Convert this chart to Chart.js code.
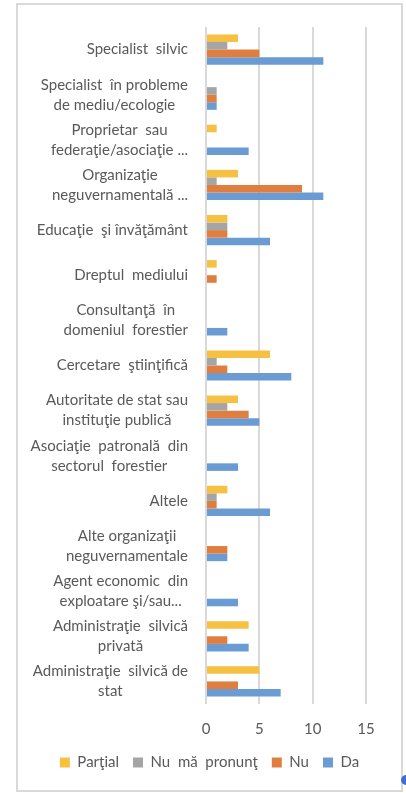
<!DOCTYPE html>
<html>
<head>
<meta charset="utf-8">
<script src="https://cdn.jsdelivr.net/npm/chart.js@4/dist/chart.umd.min.js"></script>
<style>
  html, body { margin: 0; padding: 0; background: #fff; }
  #frame { position: absolute; left: 16px; top: 3px; width: 383px; height: 785px; border: 2px solid #d9d9d9; }
  #dot { position: absolute; left: 401px; top: 775px; width: 10px; height: 10px; border-radius: 50%; background: #3d6fd8; }
</style>
</head>
<body>
<div id="frame"><canvas id="c" width="383" height="785"></canvas></div>
<div id="dot"></div>
<script>
'use strict'

// categories, top to bottom as in the picture (each one split into its lines)
const categories = [
  ['Specialist  silvic'],
  ['Specialist  în probleme', 'de mediu/ecologie'],
  ['Proprietar  sau', 'federaţie/asociaţie ...'],
  ['Organizaţie', 'neguvernamentală ...'],
  ['Educaţie  şi învăţământ'],
  ['Dreptul  mediului'],
  ['Consultanţă  în', 'domeniul  forestier'],
  ['Cercetare  ştiinţifică'],
  ['Autoritate de stat sau', 'instituţie publică'],
  ['Asociaţie  patronală  din', 'sectorul  forestier'],
  ['Altele'],
  ['Alte organizaţii', 'neguvernamentale'],
  ['Agent economic  din', 'exploatare şi/sau...'],
  ['Administraţie  silvică', 'privată'],
  ['Administraţie  silvică de', 'stat']
];

const seriesNames = ['Parţial', 'Nu  mă  pronunţ', 'Nu', 'Da'];
const partial   = [3, 0, 1, 3, 2, 1, 0, 6, 3, 0, 2, 0, 0, 4, 5];
const noOpinion = [2, 1, 0, 1, 2, 0, 0, 1, 2, 0, 1, 0, 0, 0, 0];
const no        = [5, 1, 0, 9, 2, 1, 0, 2, 4, 0, 1, 2, 0, 2, 3];
const yes       = [11, 1, 4, 11, 6, 0, 2, 8, 5, 3, 6, 2, 3, 4, 7];
const xTicks = [0, 5, 10, 15];

const colours = ['#f6c142', '#a5a5a5', '#e07e3f', '#6a9bd2'];
const textColour = '#595959';
const fontFamily = 'Lato, "Open Sans", sans-serif';

// excel style category labels: block pushed right, lines centred inside the block
const catLabels = {
  id: 'catLabels',
  afterDraw(chart) {
    const ctx = chart.ctx;
    const y = chart.scales.y;
    const right = 170;
    const lineH = 20;
    ctx.save();
    ctx.font = '15px ' + fontFamily;
    ctx.fillStyle = textColour;
    ctx.textAlign = 'center';
    ctx.textBaseline = 'middle';
    categories.forEach((lines, i) => {
      const cy = y.getPixelForTick(i);
      const w = Math.max(...lines.map(l => ctx.measureText(l).width));
      const cx = right - w / 2;
      const top = cy - (lines.length - 1) * lineH / 2;
      lines.forEach((l, k) => ctx.fillText(l, cx, top + k * lineH));
    });
    ctx.restore();
  }
};

const data = [partial, noOpinion, no, yes];

new Chart(document.getElementById('c'), {
  type: 'bar',
  data: {
    labels: categories.map(c => c.join(' ')),
    datasets: seriesNames.map((name, i) => ({
      label: name,
      data: data[i],
      backgroundColor: colours[i],
      borderWidth: 0,
      barPercentage: 1,
      categoryPercentage: 0.67
    }))
  },
  options: {
    indexAxis: 'y',
    responsive: false,
    animation: false,
    layout: { padding: { left: 0, right: 0, top: 22, bottom: 10 } },
    scales: {
      y: {
        grid: { display: false },
        border: { display: false },
        ticks: { display: false },
        afterFit(scale) { scale.width = 188; }
      },
      // empty space on the right of the plot, keeps the legend on the full width
      yRight: {
        type: 'category',
        axis: 'y',
        position: 'right',
        grid: { display: false },
        border: { display: false },
        ticks: { display: false },
        afterFit(scale) { scale.width = 35; }
      },
      x: {
        min: 0,
        max: 15,
        afterBuildTicks(scale) { scale.ticks = xTicks.map(v => ({ value: v })); },
        afterFit(scale) { scale.height -= 13; },
        grid: { color: '#d9d9d9', lineWidth: 2, drawTicks: false },
        border: { display: false },
        ticks: { color: textColour, font: { family: fontFamily, size: 15 }, padding: 16 }
      }
    },
    plugins: {
      legend: {
        position: 'bottom',
        labels: {
          boxWidth: 10,
          boxHeight: 10,
          padding: 14,
          color: textColour,
          font: { family: fontFamily, size: 15 }
        }
      },
      tooltip: { enabled: false }
    }
  },
  plugins: [catLabels]
});
</script>
</body>
</html>
